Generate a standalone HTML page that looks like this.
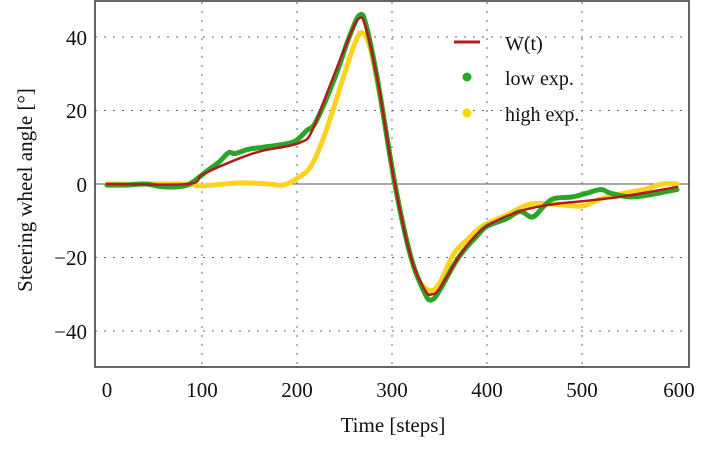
<!DOCTYPE html>
<html><head><meta charset="utf-8"><style>
html,body{margin:0;padding:0;background:#fff;}
svg{display:block;font-family:"Liberation Serif",serif;}
</style></head><body>
<svg id="s" width="720" height="450" viewBox="0 0 720 450" xmlns="http://www.w3.org/2000/svg">
<rect x="0" y="0" width="720" height="450" fill="#fff"/>
<g stroke="#666" stroke-width="1" stroke-dasharray="2,7">
<line x1="202" y1="2" x2="202" y2="367"/>
<line x1="297" y1="2" x2="297" y2="367"/>
<line x1="392" y1="2" x2="392" y2="367"/>
<line x1="487" y1="2" x2="487" y2="367"/>
<line x1="582" y1="2" x2="582" y2="367"/>
<line x1="95" y1="37" x2="689" y2="37"/>
<line x1="95" y1="110.5" x2="689" y2="110.5"/>
<line x1="95" y1="257.5" x2="689" y2="257.5"/>
<line x1="95" y1="331" x2="689" y2="331"/>
</g>
<line x1="95" y1="184" x2="689" y2="184" stroke="#555" stroke-width="1"/>
<g id="series"></g>
<rect x="95" y="1" width="594" height="366" fill="none" stroke="#333" stroke-width="1.5"/>
<g font-size="21" fill="#111" text-anchor="end">
<text x="87" y="45">40</text>
<text x="87" y="118">20</text>
<text x="87" y="192">0</text>
<text x="87" y="265">−20</text>
<text x="87" y="339">−40</text>
</g>
<g font-size="21" fill="#111" text-anchor="middle">
<text x="107" y="397">0</text>
<text x="202" y="397">100</text>
<text x="297" y="397">200</text>
<text x="392" y="397">300</text>
<text x="487" y="397">400</text>
<text x="582" y="397">500</text>
<text x="679" y="397">600</text>
<text x="393" y="432" font-size="21">Time [steps]</text>
<text transform="translate(32,190) rotate(-90)" font-size="21">Steering wheel angle [°]</text>
</g>
<line x1="454" y1="42" x2="480" y2="42" stroke="#b01c1c" stroke-width="3"/>
<circle cx="467" cy="77" r="4.5" fill="#22aa22"/>
<circle cx="467" cy="113" r="4.5" fill="#ffd700"/>
<g font-size="20" fill="#111">
<text x="505" y="50">W(t)</text>
<text x="505" y="85">low exp.</text>
<text x="505" y="121">high exp.</text>
</g>
</svg>
<script>
function X(t){return 107+t*0.95;}
function Y(v){return 184-v*3.675;}
function path(pts){
  var p=pts.map(function(a){return [X(a[0]),Y(a[1])];});
  var d="M"+p[0][0]+","+p[0][1];
  for(var i=0;i<p.length-1;i++){
    var p0=p[i-1]||p[i],p1=p[i],p2=p[i+1],p3=p[i+2]||p2;
    var c1=[p1[0]+(p2[0]-p0[0])/6,p1[1]+(p2[1]-p0[1])/6];
    var c2=[p2[0]-(p3[0]-p1[0])/6,p2[1]-(p3[1]-p1[1])/6];
    d+=" C"+c1+" "+c2+" "+p2;
  }
  return d;
}
var W=[[0,0],[85,0],[100,2.5],[130,6],[160,8.8],[190,10.3],[205,11.5],[215,14],[235,27],[255,40],[265,45],[272,43],[285,28],[303,0],[320,-20],[335,-29],[342,-30],[350,-28.5],[370,-20],[390,-13.5],[410,-10],[440,-7],[470,-5.5],[500,-4.7],[540,-3.5],[570,-2.2],[600,-0.8]];
var G=[[0,-0.3],[20,-0.3],[40,0],[60,-0.8],[80,-0.6],[90,0.5],[105,3.5],[118,6],[128,8.5],[135,8.3],[150,9.5],[170,10.2],[190,11],[200,12],[210,14.5],[220,17],[240,29],[255,40],[266,46],[273,43],[285,28],[303,0],[320,-20],[335,-30],[342,-31.5],[350,-29],[370,-20],[390,-14],[400,-11.5],[420,-9.5],[435,-7.5],[448,-9],[460,-6],[470,-4],[490,-3.5],[505,-2.5],[520,-1.5],[530,-2.5],[550,-3.5],[570,-3],[590,-2],[600,-1.5]];
var Yl=[[0,0],[80,0],[100,-0.5],[140,0.3],[170,0],[185,-0.3],[200,1.5],[215,5],[230,14],[250,30],[262,39],[270,41],[278,36],[290,20],[303,0],[318,-18],[328,-26],[340,-29],[350,-27],[365,-19],[380,-15],[395,-11.5],[420,-8.5],[445,-5.5],[470,-5.5],[500,-6],[520,-4],[545,-2.5],[565,-1.5],[585,0],[600,0]];
var g=document.getElementById("series");
function add(pts,col,w){var e=document.createElementNS("http://www.w3.org/2000/svg","path");e.setAttribute("d",path(pts));e.setAttribute("fill","none");e.setAttribute("stroke",col);e.setAttribute("stroke-width",w);e.setAttribute("stroke-linecap","round");e.setAttribute("stroke-linejoin","round");g.appendChild(e);}
add(Yl,"#ffd21f",5);
add(G,"#2aa52a",5);
add(W,"#b01c1c",2.5);
</script>
</body></html>
